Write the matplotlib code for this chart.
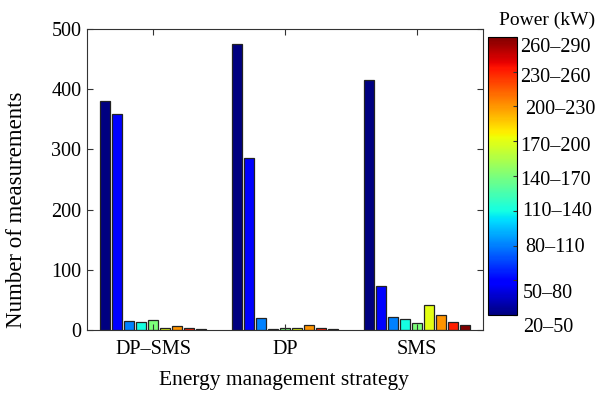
import matplotlib.pyplot as plt
import matplotlib as mpl
import numpy as np

plt.rcParams['font.family'] = ['Liberation Serif', 'DejaVu Serif']

strategies = ['DP\u2013SMS', 'DP', 'SMS']
power_bins = ['20\u201350', '50\u201380', '80\u2013110', '110\u2013140', '140\u2013170',
              '170\u2013200', '200\u2013230', '230\u2013260', '260\u2013290']

# counts per power bin for each strategy
dp_sms = [380, 358, 15, 14, 16, 4, 7, 3, 1]
dp = [475, 286, 20, 2, 4, 4, 8, 3, 1]
sms = [415, 73, 22, 18, 11, 42, 25, 14, 8]

counts = np.array([dp_sms, dp, sms])
colors = plt.cm.jet(np.linspace(0, 1, len(power_bins)))

fig = plt.figure(figsize=(6.03, 3.94), dpi=100)
ax = fig.add_axes([0.1443, 0.1624, 0.6567, 0.764])

x = np.arange(1, len(strategies) + 1)
pitch = 0.0909
for k in range(len(power_bins)):
    ax.bar(x + (k - 4) * pitch, counts[:, k], width=0.076, color=colors[k],
           edgecolor='#222222', linewidth=0.9)

ax.set_xlim(0.5, 3.5)
ax.set_ylim(0, 500)
ax.set_xticks(x)
ax.set_xticklabels(strategies)
ax.set_yticks(np.arange(0, 501, 100))
ax.tick_params(direction='in', top=True, right=True, labelsize=14.5, length=4,
               width=0.8, color='#333333')
ax.tick_params(axis='x', pad=7)
ax.tick_params(axis='y', pad=4)
for s in ax.spines.values():
    s.set_color('#333333')
    s.set_linewidth(0.8)

ax.set_xlabel('Energy management strategy', fontsize=15.5)
ax.set_ylabel('Number of measurements', fontsize=16.5)
ax.yaxis.set_label_coords(-0.152, 0.40)
ax.xaxis.set_label_coords(0.497, -0.136)

# colour scale for the power bins
cax = fig.add_axes([0.809, 0.2005, 0.048, 0.7056])
cb = mpl.colorbar.ColorbarBase(cax, cmap=plt.cm.jet, orientation='vertical')
cb.set_ticks(np.linspace(0, 1, len(power_bins)))
cb.set_ticklabels([])
cax.tick_params(direction='in', length=3, width=0.8, color='#333333')
cb.outline.set_linewidth(0.8)
fig.text(0.907, 0.948, 'Power (kW)', fontsize=14, ha='center', va='center')

label_y = [328, 293, 248, 211, 180, 147, 110, 78, 47]
label_x = [523, 523, 525, 522, 520, 520, 525, 520, 520]
for lab, ly, lx in zip(power_bins, label_y, label_x):
    fig.text(lx / 603, 1 - ly / 394, lab, fontsize=14.5, ha='left', va='center')

fig.savefig('out.png', dpi=100)
